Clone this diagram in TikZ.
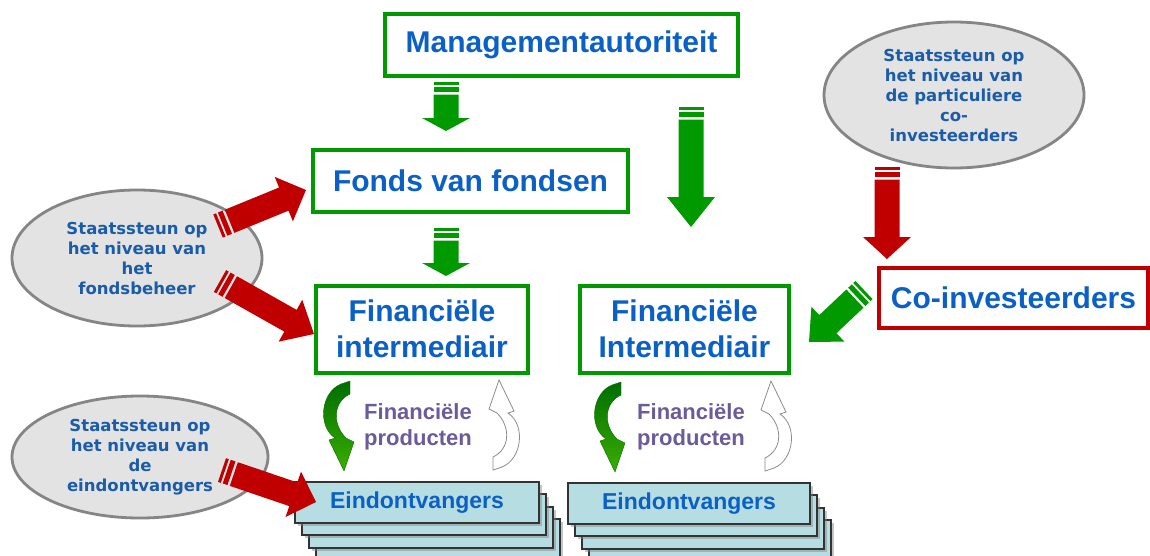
\documentclass[tikz,border=0pt]{standalone}
\usepackage{fontspec}
\setmainfont{Liberation Sans}
\newfontfamily\ellfont{DejaVu Sans}
\usetikzlibrary{calc,shapes.geometric,shadows}
\definecolor{bxgreen}{HTML}{009A00}
\definecolor{arrgreen}{HTML}{009900}
\definecolor{dred}{HTML}{C00000}
\definecolor{txtblue}{HTML}{0B60C6}
\definecolor{elltxt}{HTML}{1B5CA8}
\definecolor{ellfill}{HTML}{E3E3E3}
\definecolor{ellline}{HTML}{858585}
\definecolor{einfill}{HTML}{B6DDE1}
\definecolor{prodtxt}{HTML}{6B5B9A}
\definecolor{gdark}{HTML}{006E00}
\definecolor{glight}{HTML}{3AAE00}
% striped block arrow: tail, tip, head length, colour
\newcommand\blockarrow[4]{%
  \fill[#4] ($(#1)!0pt!(#2)!12.5pt!90:(#2)$) -- ($(#1)!0pt!(#2)!12.5pt!-90:(#2)$)
     -- ($(#1)!3pt!(#2)!12.5pt!-90:(#2)$) -- ($(#1)!3pt!(#2)!12.5pt!90:(#2)$) -- cycle;
  \fill[#4] ($(#1)!5pt!(#2)!12.5pt!90:(#2)$) -- ($(#1)!5pt!(#2)!12.5pt!-90:(#2)$)
     -- ($(#1)!10pt!(#2)!12.5pt!-90:(#2)$) -- ($(#1)!10pt!(#2)!12.5pt!90:(#2)$) -- cycle;
  \fill[#4] ($(#1)!12.5pt!(#2)!12.5pt!90:(#2)$) -- ($(#2)!#3!(#1)!12.5pt!90:(#2)$)
     -- ($(#2)!#3!(#1)!24pt!90:(#2)$) -- (#2) -- ($(#2)!#3!(#1)!24pt!-90:(#2)$)
     -- ($(#2)!#3!(#1)!12.5pt!-90:(#2)$) -- ($(#1)!12.5pt!(#2)!12.5pt!-90:(#2)$) -- cycle;
}
\newcommand\curvedpath{(4,-42) -- (13,-45) -- (13,-32) .. controls (-4,-24) and (-5,-2) .. (9,12)
  -- (17,16) -- (7,45) -- (-8,14) -- (-2,12) .. controls (-20,0) and (-16,-34) .. (4,-42) -- cycle}
\tikzset{
  gbox/.style={draw=bxgreen, line width=4pt, fill=white, inner sep=0pt, align=center,
     text=txtblue, font=\fontsize{30}{36}\selectfont\bfseries},
  rbox/.style={gbox, draw=dred},
  ell/.style={ellipse, draw=ellline, line width=2.8pt, fill=ellfill, inner sep=0pt, align=center,
     text=elltxt, font=\ellfont\fontsize{16.5}{20}\selectfont\bfseries},
  ebox/.style={draw=black!80, line width=1.2pt, fill=einfill, minimum height=41pt, inner sep=0pt,
     drop shadow={shadow xshift=2.5pt, shadow yshift=-2.5pt, opacity=0.45}},
  etext/.style={text=txtblue, font=\fontsize{23}{26}\selectfont\bfseries},
  prod/.style={text=prodtxt, align=center, font=\fontsize{22}{26}\selectfont\bfseries},
  greencurve/.style={top color=gdark, bottom color=glight, draw=arrgreen!70!black, line width=0.4pt},
  whitecurve/.style={fill=white, draw=black!45, line width=0.8pt}
}
\begin{document}
\begin{tikzpicture}[x=1pt, y=-1pt]
\useasboundingbox[fill=white] (0,0) rectangle (1150,555);

% ellipses
\node[ell, minimum width=260pt, minimum height=146pt] (e1) at (954,95)
  {Staatssteun op\\het niveau van\\de particuliere\\co-\\investeerders};
\node[ell, minimum width=250pt, minimum height=136pt] (e2) at (137,258)
  {Staatssteun op\\het niveau van\\het\\fondsbeheer};
\node[ell, minimum width=256pt, minimum height=122pt] (e3) at (140,457)
  {Staatssteun op\\het niveau van\\de\\eindontvangers};

% boxes
\node[gbox, minimum width=353pt, minimum height=62pt] (mgmt) at (561.5,45) {Managementautoriteit};
\node[gbox, minimum width=315pt, minimum height=62pt] (fvf) at (470.5,180.5) {Fonds van fondsen};
\node[gbox, minimum width=212pt, minimum height=87pt] (fil) at (422,329) {Financiële\\intermediair};
\node[gbox, minimum width=209pt, minimum height=87pt] (fir) at (684.5,329) {Financiële\\Intermediair};
\node[rbox, minimum width=269pt, minimum height=60pt] (coi) at (1013.5,298) {Co-investeerders};

% Eindontvangers stacks
\foreach \dx/\dy [count=\i] in {21/37,14/25,7/12} {
  \node[ebox, minimum width=244pt] (el\i) at (417+\dx,502.5+\dy) {};
  \node[ebox, minimum width=242pt] (er\i) at (689+\dx,503.5+\dy) {};
}
\node[ebox, minimum width=244pt, etext] (elf) at (417,502.5) {Eindontvangers};
\node[ebox, minimum width=242pt, etext] (erf) at (689,503.5) {Eindontvangers};

% producten
\node[prod] (pl) at (418,427) {Financiële\\producten};
\node[prod] (pr) at (691,427) {Financiële\\producten};

% curved arrows
\begin{scope}[shift={(337,426)}] \shade[greencurve] \curvedpath; \end{scope}
\begin{scope}[shift={(608,427)}] \shade[greencurve] \curvedpath; \end{scope}
\begin{scope}[shift={(506,425)}, rotate=180] \filldraw[whitecurve] \curvedpath; \end{scope}
\begin{scope}[shift={(778,426)}, rotate=180] \filldraw[whitecurve] \curvedpath; \end{scope}

% block arrows
\coordinate (a1t) at (446,82);  \coordinate (a1e) at (446,131);
\coordinate (a2t) at (446,228); \coordinate (a2e) at (446,276);
\coordinate (a3t) at (691,107); \coordinate (a3e) at (691,227);
\coordinate (a4t) at (887,167); \coordinate (a4e) at (887,259);
\coordinate (a5t) at (864,290); \coordinate (a5e) at (809,342);
\coordinate (a6t) at (218,226); \coordinate (a6e) at (306,190);
\coordinate (a7t) at (220,281); \coordinate (a7e) at (314,334);
\coordinate (a8t) at (222,470); \coordinate (a8e) at (316,502);
\blockarrow{a1t}{a1e}{13pt}{arrgreen}
\blockarrow{a2t}{a2e}{13pt}{arrgreen}
\blockarrow{a3t}{a3e}{30pt}{arrgreen}
\blockarrow{a4t}{a4e}{22pt}{dred}
\blockarrow{a5t}{a5e}{26pt}{arrgreen}
\blockarrow{a6t}{a6e}{24pt}{dred}
\blockarrow{a7t}{a7e}{27pt}{dred}
\blockarrow{a8t}{a8e}{24pt}{dred}
\end{tikzpicture}
\end{document}
